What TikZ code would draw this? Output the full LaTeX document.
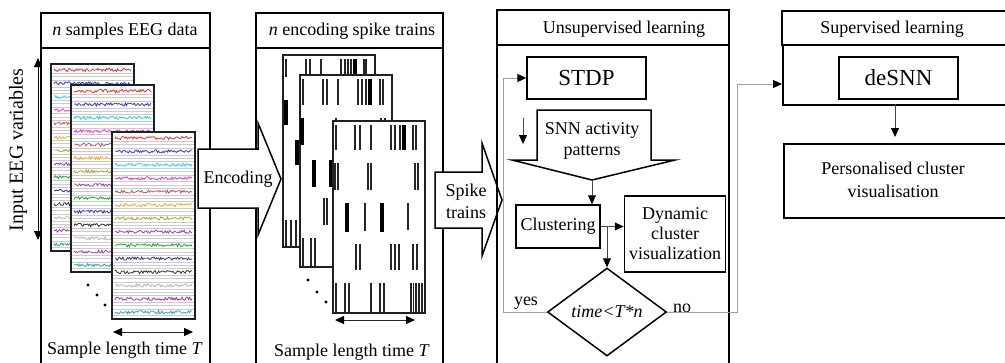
\documentclass[tikz,border=0pt]{standalone}
\usepackage{fontspec}
\IfFontExistsTF{LiberationSerif-Regular.ttf}
  {\setmainfont{LiberationSerif}[Extension=.ttf,UprightFont=*-Regular,
     ItalicFont=*-Italic,BoldFont=*-Bold,BoldItalicFont=*-BoldItalic]}
  {\setmainfont{Liberation Serif}}
\usetikzlibrary{arrows.meta,shapes.geometric}

% EEG trace colours
\definecolor{eA}{HTML}{E83030}
\definecolor{eB}{HTML}{3838E0}
\definecolor{eC}{HTML}{20D8E8}
\definecolor{eD}{HTML}{E838E8}
\definecolor{eE}{HTML}{B86060}
\definecolor{eF}{HTML}{F4A828}
\definecolor{eG}{HTML}{A8A838}
\definecolor{eH}{HTML}{A040B8}
\definecolor{eI}{HTML}{30A838}
\definecolor{eJ}{HTML}{3434A8}
\definecolor{eK}{HTML}{383838}
\definecolor{eL}{HTML}{B8B8B8}
\definecolor{eM}{HTML}{A838A8}
\definecolor{eN}{HTML}{30A8A8}

% one sheet of multichannel EEG: #1,#2 = top-left corner
\newcommand\eegsheet[2]{%
  \filldraw[fill=white,draw=none] (#1,#2) rectangle ++(83,187);
  \begin{scope}
    \clip (#1,#2) rectangle ++(83,187);
    \pgfmathsetmacro\xs{#1+3}
    \pgfmathsetmacro\xe{#1+80}
    \foreach \cc [count=\j from 0] in {eA,eB,eC,eD,eE,eF,eG,eH,eI,eJ,eK,eL,eM,eN}{
      \pgfmathsetmacro\yc{#2+6+13.4*\j}
      \foreach \d in {3.4,6.7,10}{
        \draw[gray!40,line width=0.5pt] (#1,\yc+\d) -- (#1+83,\yc+\d);
      }
      \draw[\cc,line width=0.8pt] plot[domain=\xs:\xe,samples=70] (\x,{\yc+1.6*rand});
    }
  \end{scope}
  \draw[sheet] (#1,#2) rectangle ++(83,187);
}

\newcommand\spk[3]{\draw[spike] (#1,#2) -- (#1,#3);}
\newcommand\Spk[3]{\draw[spike,line width=3.6pt,black] (#1,#2) -- (#1,#3);}

\begin{document}
\begin{tikzpicture}[x=1pt,y=-1pt,
  panel/.style={draw=black,line width=1.5pt},
  sheet/.style={draw=gray!25!black,line width=1.2pt},
  spike/.style={draw=gray!30!black,line width=1.4pt},
  txt/.style={font=\fontsize{18}{20}\selectfont,inner sep=0pt,align=center},
  bigtxt/.style={font=\fontsize{23}{26}\selectfont},
  box/.style={draw=black,line width=1.5pt,fill=white,inner sep=0pt,align=center,
    font=\fontsize{18}{20}\selectfont},
  blockarrow/.style={draw=black,line width=1.5pt,fill=white,line join=miter},
  flow/.style={draw=gray!55!black,line width=0.8pt,
    -{Triangle[length=9pt,width=8pt,black]}},
  twoway/.style={draw=gray!30!black,line width=0.9pt,
    {Triangle[length=9pt,width=8pt,black]}-{Triangle[length=9pt,width=8pt,black]}},
  loopline/.style={draw=gray!75,line width=1pt},
  dot/.style={fill=black,circle,inner sep=0pt,minimum size=3.2pt},
]
\useasboundingbox (0,0) rectangle (1005,362);
\clip (0,0) rectangle (1005,362);
\pgfmathsetseed{4711}

% ---------- panel 1: EEG samples ----------
\draw[panel] (41,13) rectangle (210,380);
\draw[panel] (41,48) -- (210,48);
\node[txt] (t1) at (125,31) {\textit{n} samples EEG data};

\eegsheet{51}{64}
\eegsheet{71}{85}
\eegsheet{112}{132}

\coordinate (vA) at (38,58);
\coordinate (vB) at (38,240);
\draw[twoway,draw=black] (vA) -- (vB);
\node[txt,font=\fontsize{20}{22}\selectfont,rotate=90] (invar) at (18,150) {Input EEG variables};

\node[dot] (d1a) at (88,285) {};
\node[dot] (d1b) at (97,295) {};
\node[dot] (d1c) at (105,305) {};

\coordinate (h1A) at (113,332);
\coordinate (h1B) at (193,332);
\draw[twoway] (h1A) -- (h1B);
\node[txt] (len1) at (125,350) {Sample length time \textit{T}};

% ---------- panel 2: spike trains ----------
\draw[panel] (256,13) rectangle (443,380);
\draw[panel] (256,48) -- (443,48);
\node[txt] (t2) at (352,31) {\textit{n} encoding spike trains};

% sheet 1
\filldraw[fill=white,sheet] (283,55) rectangle (375,247);
\foreach \p in {286,306,310,321,341,345,348,351,364,366}{\spk{\p}{59}{77}}
\Spk{355}{59}{77}
\Spk{286}{100}{125}
\Spk{297}{140}{165}
\foreach \p in {286,291,296}{\spk{\p}{220}{246}}
% sheet 2
\filldraw[fill=white,sheet] (300,75) rectangle (392,267);
\foreach \p in {303,323,327,338,358,362,366,380,383}{\spk{\p}{79}{105}}
\Spk{370}{79}{105}
\Spk{302}{118}{145}
\foreach \p in {336,381,385}{\spk{\p}{118}{145}}
\Spk{314}{160}{187}
\Spk{331}{160}{187}
\foreach \p in {324,327}{\spk{\p}{198}{225}}
\foreach \p in {303,311,315}{\spk{\p}{238}{266}}
% sheet 3
\filldraw[fill=white,sheet] (333,121) rectangle (425,313);
\foreach \p in {336,355,360,371,391,395,400,413,416}{\spk{\p}{125}{150}}
\Spk{404}{125}{150}
\foreach \p in {335,338,368,371,415,418}{\spk{\p}{163}{190}}
\Spk{347}{203}{232}
\draw[spike,line width=2.4pt] (365,203) -- (365,231);
\Spk{382}{203}{232}
\spk{408}{203}{230}
\foreach \p in {356,360,391,395,399,413,417}{\spk{\p}{244}{270}}
\foreach \p in {336,345,349,371,380,384,411,413.5,416,419,422}{\spk{\p}{283}{312}}
\draw[sheet] (333,121) rectangle (425,313);

\node[dot] (d2a) at (308,280) {};
\node[dot] (d2b) at (317,292) {};
\node[dot] (d2c) at (326,302) {};

\coordinate (h2A) at (335,320);
\coordinate (h2B) at (415,320);
\draw[twoway] (h2A) -- (h2B);
\node[txt] (len2) at (352,352) {Sample length time \textit{T}};

% ---------- block arrows between panels ----------
\draw[blockarrow] (198,149) -- (258,149) -- (258,123) -- (281,179) -- (258,235)
  -- (258,208) -- (198,208) -- cycle;
\node[txt] (enc) at (238,179) {Encoding};

\draw[blockarrow] (435,172) -- (482,172) -- (482,143) -- (502,200) -- (482,256)
  -- (482,228) -- (435,228) -- cycle;
\node[txt,font=\fontsize{18}{22}\selectfont] (spk) at (466,201) {Spike\\trains};

% ---------- panel 3: unsupervised learning ----------
\draw[panel] (497,10) rectangle (729,380);
\draw[panel] (497,45) -- (729,45);
\node[txt] (t3) at (624,29) {Unsupervised learning};

\node[box,bigtxt,minimum width=119pt,minimum height=42pt] (stdp) at (586.5,78) {STDP};

\draw[blockarrow] (537,110) -- (651,110) -- (651,160) -- (675,160) -- (592,180)
  -- (512,160) -- (537,160) -- cycle;
\node[txt,font=\fontsize{18}{21}\selectfont] (snn) at (592,141) {SNN activity\\patterns};
\coordinate (snntip) at (592,180);

\coordinate (sa1) at (523,118);
\coordinate (sa2) at (523,144);
\draw[flow] (sa1) -- (sa2);

\node[box,minimum width=84pt,minimum height=43pt] (clus) at (558,226.5) {Clustering};
\node[box,minimum width=101pt,minimum height=76pt] (dyn) at (675,234)
  {Dynamic\\cluster\\visualization};
\node[draw=black,line width=1.5pt,fill=white,diamond,aspect=1.35,inner sep=0pt,
  minimum width=119pt,minimum height=88pt,font=\fontsize{18}{20}\selectfont]
  (dia) at (607,312) {\textit{time<T*n}};

\draw[flow] (snntip) -- (snntip |- clus.north);
\coordinate (cr) at (clus.east);
\draw[flow] (cr) -- (cr -| dyn.west);
\coordinate (br) at (cr -| dia.north);
\draw[flow] (br) -- (dia.north);

% feedback loop and exit
\coordinate (lpL) at (503,312);
\coordinate (lpLT) at (503,78);
\draw[loopline,-{Triangle[length=9pt,width=8pt,black]}] (dia.west) -- (lpL) -- (lpLT) -- (stdp.west);
\node[txt,anchor=south] (yes) at (526,310) {yes};
\node[txt,anchor=south] (no) at (682,313) {no};

\coordinate (lpR) at (737,312);
\coordinate (lpRT) at (737,84);
\coordinate (supin) at (782,84);
\draw[loopline,-{Triangle[length=9pt,width=8pt,black]}] (dia.east) -- (lpR) -- (lpRT) -- (supin);

% ---------- panel 4: supervised learning ----------
\node[box,minimum width=240pt,minimum height=34pt,anchor=north west] (t4box) at (781,10) {};
\node[txt] (t4) at (892,29) {Supervised learning};
\node[box,minimum width=240pt,minimum height=60pt,anchor=north west] (supbody) at (782,44) {};
\node[box,bigtxt,minimum width=119pt,minimum height=42pt] (desnn) at (898.5,78) {deSNN};
\node[box,minimum width=240pt,minimum height=74pt,anchor=north west] (persbox) at (783,143) {};
\node[txt,font=\fontsize{18}{23}\selectfont] (pers) at (893,180) {Personalised cluster\\visualisation};
\coordinate (sb) at (895,104);
\coordinate (pb) at (895,137);
\draw[flow] (sb) -- (pb);
\end{tikzpicture}
\end{document}
